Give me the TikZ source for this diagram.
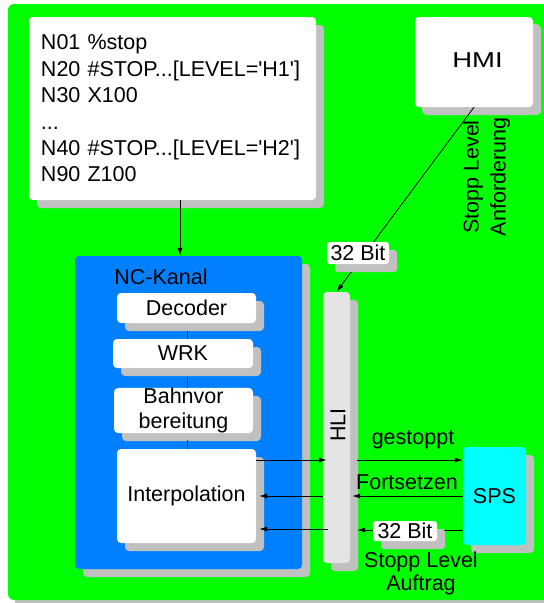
\documentclass[tikz,border=0pt]{standalone}
\usepackage{fontspec}
\setmainfont{Liberation Sans}
\usetikzlibrary{shadows,arrows.meta,calc}
\definecolor{bggreen}{RGB}{0,255,0}
\definecolor{ncblue}{RGB}{0,128,255}
\definecolor{spscyan}{RGB}{0,255,255}
\definecolor{hligray}{RGB}{228,228,228}
\definecolor{shgray}{RGB}{192,192,192}
\begin{document}
\begin{tikzpicture}[x=1pt,y=-1pt,
  font=\fontsize{21.5}{26.4}\selectfont,
  shad/.style={drop shadow={shadow xshift=8pt,shadow yshift=-8pt,fill=shgray,opacity=1}},
  box/.style={rounded corners=4pt,fill=white,inner sep=0pt,shad},
  lab/.style={rounded corners=3pt,fill=white,inner sep=0pt,shad},
  txt/.style={inner sep=0pt},
  arr/.style={draw=black,line width=0.8pt,-{Latex[length=8pt,width=5pt]}},
  conn/.style={draw=black!80,line width=0.8pt}]
\useasboundingbox (0,0) rectangle (544,603);
% background
\fill[shgray,rounded corners=6pt] (15,11) rectangle (570,607);
\fill[bggreen,rounded corners=6pt] (8,4) rectangle (563,600);
% code box
\node[box,minimum width=287pt,minimum height=183pt,text width=263pt,align=left] (code) at (172.5,108.5)
 {N01 \%stop\\N20 \#STOP...[LEVEL=\textquotesingle H1\textquotesingle]\\N30 X100\\...\\N40 \#STOP...[LEVEL=\textquotesingle H2\textquotesingle]\\N90 Z100};
% HMI
\node[box,minimum width=118pt,minimum height=90pt,drop shadow={shadow xshift=7pt,shadow yshift=-7pt,fill=shgray,opacity=1}] (hmi) at (474,62) {};
\node[txt] (hmitext) at (477.5,60) {\scalebox{1.28}[1]{HMI}};
\node[txt,rotate=90,align=center,font=\fontsize{21.5}{27}\selectfont] (anf) at (486.5,177) {Stopp Level\\Anforderung};
% NC-Kanal
\node[rounded corners=4pt,fill=ncblue,inner sep=0pt,minimum width=227pt,minimum height=313pt,shad] (nc) at (188.5,412.5) {};
\node[txt] (nctext) at (161,277) {NC-Kanal};
\coordinate (a1) at ($(code.south)+(7.5,0)$);
\draw[arr] (a1) -- (a1 |- nc.north);
% inner boxes
\node[box,minimum width=139pt,minimum height=30pt] (dec) at (186.5,308) {Decoder};
\node[box,minimum width=140pt,minimum height=29pt] (wrk) at (183,353.5) {WRK};
\coordinate (c1) at ($(dec.south)+(0.5,8)$);
\draw[conn] (c1) -- (c1 |- wrk.north);
\node[box,minimum width=139pt,minimum height=45pt,align=center,font=\fontsize{21.5}{25}\selectfont] (bahn) at (183.5,410.5) {Bahnvor\\bereitung};
\coordinate (c2) at ($(c1 |- wrk.south)+(0,9)$);
\draw[conn] (c2) -- (c2 |- bahn.north);
\node[box,minimum width=139pt,minimum height=94pt] (interp) at (186.5,496) {Interpolation};
\coordinate (c3) at ($(c1 |- bahn.south)+(0,7)$);
\draw[conn] (c3) -- (c3 |- interp.north);
% HLI
\node[rounded corners=4pt,fill=hligray,inner sep=0pt,minimum width=27pt,minimum height=271pt,shad] (hli) at (336.5,427.5) {};
\node[txt,rotate=90] (hlitext) at (338,425) {HLI};
% SPS
\node[rounded corners=4pt,fill=spscyan,inner sep=0pt,minimum width=63pt,minimum height=98pt,shad] (sps) at (494.5,496) {SPS};
% HMI -> HLI
\draw[arr] (hmi.south) -- (hli.north);
\node[lab,minimum width=62pt,minimum height=22pt] (lab1) at (358,253) {32 Bit};
% arrows between interpolation, HLI and SPS
\coordinate (p1) at ($(interp.east)+(0,-36)$);
\draw[arr] (p1) -- ($(p1 -| hli.west)+(4,0)$);
\draw[arr] ($(p1 -| hli.east)+(7,0)$) -- (p1 -| sps.west);
\node[txt] (gest) at (413,440) {gestoppt};
\draw[arr] (interp.east -| hli.west) -- ($(interp.east)+(3,0)$);
\draw[arr] (sps.west) -- ($(sps.west -| hli.east)+(2,0)$);
\node[txt] (fort) at (407,482) {Fortsetzen};
\coordinate (p3) at ($(interp.east)+(0,33)$);
\draw[arr] ($(p3 -| hli.west)+(5,0)$) -- ($(p3)+(3,0)$);
\coordinate (p4) at ($(sps.west)+(0,34)$);
\draw[arr] (p4) -- ($(p4 -| hli.east)+(7,0)$);
\node[lab,minimum width=64pt,minimum height=20pt] (lab2) at (405,531) {32 Bit};
\node[txt,align=center,font=\fontsize{21.5}{23}\selectfont] (auf) at (421,573.5) {Stopp Level\\Auftrag};
\end{tikzpicture}
\end{document}
